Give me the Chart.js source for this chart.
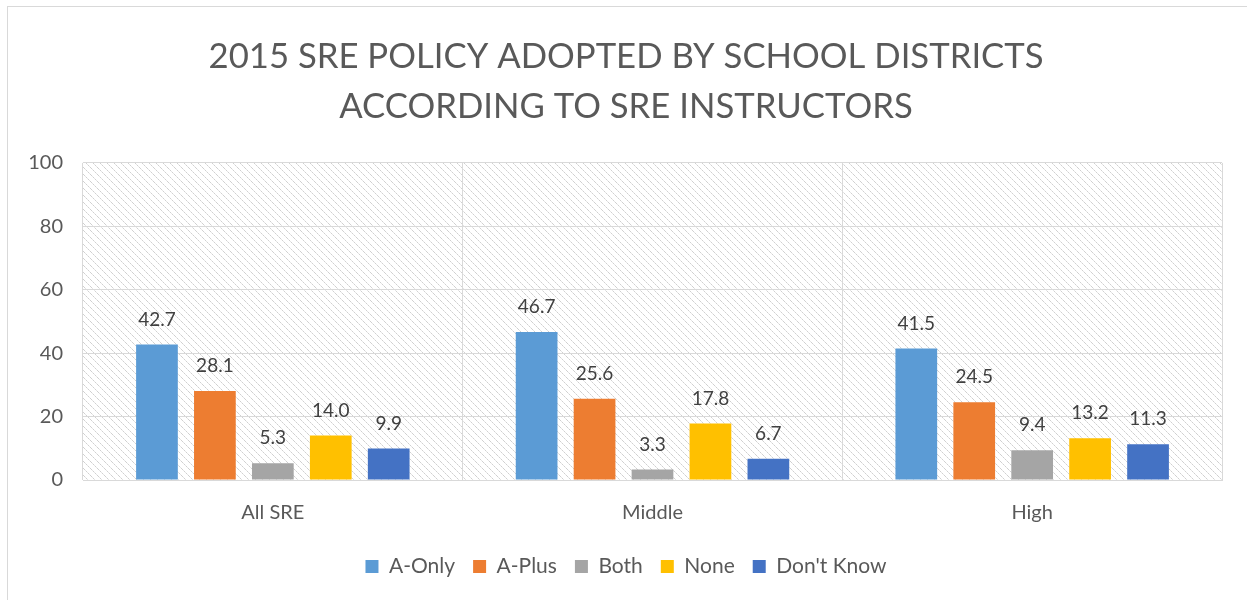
<!DOCTYPE html>
<html>
<head>
<meta charset="utf-8">
<script src="https://cdn.jsdelivr.net/npm/chart.js@4.4.1/dist/chart.umd.min.js"></script>
<style>
  html, body { margin: 0; padding: 0; background: #fff; }
  #wrap { width: 1247px; height: 600px; position: relative; }
</style>
</head>
<body>
<div id="wrap"><canvas id="c" width="1247" height="600"></canvas></div>
<script>
// data
const categories = ['All SRE', 'Middle', 'High'];
const seriesNames = ['A-Only', 'A-Plus', 'Both', 'None', "Don't Know"];
const aOnly = [42.7, 46.7, 41.5];
const aPlus = [28.1, 25.6, 24.5];
const both = [5.3, 3.3, 9.4];
const none = [14.0, 17.8, 13.2];
const dontKnow = [9.9, 6.7, 11.3];
const yTicks = [0, 20, 40, 60, 80, 100];

const colors = ['#5B9BD5', '#ED7D31', '#A5A5A5', '#FFC000', '#4472C4'];
const FONT = "Lato, 'Open Sans', sans-serif";

// diagonal hatch for the plot area
function hatch() {
    const t = document.createElement('canvas');
    t.width = 7; t.height = 7;
    const g = t.getContext('2d');
    g.fillStyle = '#fff';
    g.fillRect(0, 0, 7, 7);
    for (let i = 0; i < 7; i++) {
        g.fillStyle = i % 2 ? '#e4e4e4' : '#d0d0d0';
        g.fillRect(i, i, 1, 1);
    }
    return g.createPattern(t, 'repeat');
}

const bgPlugin = {
    id: 'bg',
    beforeDraw(chart) {
        const { ctx, chartArea: a } = chart;
        ctx.save();
        ctx.strokeStyle = '#d9d9d9';
        ctx.lineWidth = 1;
        ctx.strokeRect(7.5, 6.5, 1300, 700);
        ctx.fillStyle = hatch();
        ctx.fillRect(a.left, a.top, a.right - a.left, a.bottom - a.top);
        ctx.restore();
    }
};

const valueLabels = {
    id: 'valueLabels',
    afterDatasetsDraw(chart) {
        const { ctx } = chart;
        ctx.save();
        ctx.font = '19px ' + FONT;
        ctx.fillStyle = '#404040';
        ctx.textAlign = 'center';
        ctx.textBaseline = 'middle';
        chart.data.datasets.forEach((ds, i) => {
            chart.getDatasetMeta(i).data.forEach((bar, j) => {
                ctx.fillText(ds.data[j].toFixed(1), bar.x, bar.y - 25);
            });
        });
        ctx.restore();
    }
};

const series = [aOnly, aPlus, both, none, dontKnow];

new Chart(document.getElementById('c'), {
    type: 'bar',
    data: {
        labels: categories,
        datasets: series.map((d, i) => ({
            label: seriesNames[i],
            data: d,
            backgroundColor: colors[i],
            categoryPercentage: 0.763,
            barPercentage: 0.72,
        })),
    },
    options: {
        responsive: false,
        animation: false,
        layout: { padding: { left: 30, right: 25, top: 0, bottom: 13 } },
        scales: {
            x: {
                grid: { color: '#d9d9d9', offset: true, drawTicks: false },
                border: { color: '#d9d9d9' },
                ticks: { color: '#595959', font: { family: FONT, size: 20 }, padding: 21 },
                afterFit: s => { s.height = 58; },
            },
            y: {
                min: 0, max: 100,
                afterBuildTicks: s => { s.ticks = yTicks.map(v => ({ value: v })); },
                grid: { color: '#d9d9d9', drawTicks: false },
                border: { display: false },
                ticks: { color: '#595959', font: { family: FONT, size: 20 }, padding: 20 },
                afterFit: s => { s.width = 53; },
            },
        },
        plugins: {
            title: {
                display: true,
                text: ['2015 SRE POLICY ADOPTED BY SCHOOL DISTRICTS', 'ACCORDING TO SRE INSTRUCTORS'],
                color: '#595959',
                font: { family: FONT, size: 34.7, weight: 'normal', lineHeight: 1.44 },
                padding: { top: 32, bottom: 31 },
            },
            legend: {
                position: 'bottom',
                labels: {
                    color: '#595959',
                    font: { family: FONT, size: 21 },
                    boxWidth: 13, boxHeight: 13,
                    padding: 18,
                },
            },
            tooltip: { enabled: false },
        },
    },
    plugins: [bgPlugin, valueLabels],
});
</script>
</body>
</html>
